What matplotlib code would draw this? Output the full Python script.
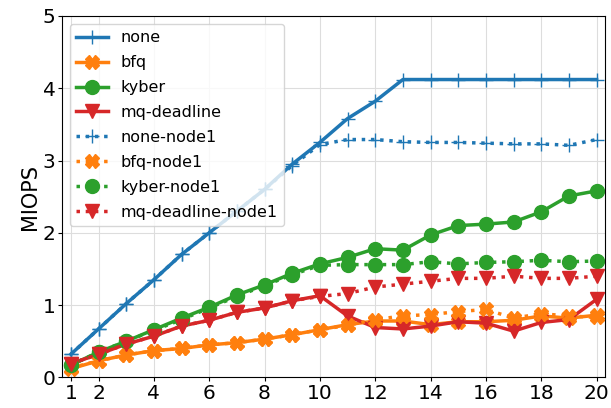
import numpy as np
import matplotlib
matplotlib.use('Agg')
import matplotlib.pyplot as plt

threads = list(range(1, 21))

none = [0.32, 0.67, 1.02, 1.35, 1.70, 2.00, 2.30, 2.60, 2.95, 3.25,
        3.58, 3.82, 4.12, 4.12, 4.12, 4.12, 4.12, 4.12, 4.12, 4.12]
bfq = [0.12, 0.23, 0.31, 0.37, 0.40, 0.45, 0.48, 0.53, 0.59, 0.66,
       0.73, 0.78, 0.78, 0.73, 0.77, 0.77, 0.79, 0.85, 0.82, 0.86]
kyber = [0.17, 0.35, 0.50, 0.66, 0.82, 0.97, 1.14, 1.28, 1.44, 1.57,
         1.66, 1.78, 1.76, 1.97, 2.10, 2.12, 2.15, 2.29, 2.51, 2.58]
mq_deadline = [0.19, 0.32, 0.46, 0.57, 0.71, 0.79, 0.90, 0.96, 1.06, 1.13,
               0.85, 0.69, 0.67, 0.71, 0.77, 0.75, 0.64, 0.76, 0.80, 1.08]

none_node1 = [0.32, 0.67, 1.02, 1.35, 1.70, 2.00, 2.30, 2.60, 2.93, 3.22,
              3.29, 3.29, 3.26, 3.25, 3.25, 3.24, 3.23, 3.23, 3.21, 3.29]
bfq_node1 = [0.13, 0.23, 0.31, 0.37, 0.40, 0.45, 0.48, 0.53, 0.59, 0.66,
             0.72, 0.80, 0.85, 0.87, 0.91, 0.94, 0.82, 0.88, 0.85, 0.83]
kyber_node1 = [0.17, 0.35, 0.50, 0.65, 0.80, 0.96, 1.12, 1.27, 1.42, 1.55,
               1.56, 1.56, 1.56, 1.60, 1.57, 1.59, 1.60, 1.62, 1.60, 1.61]
mq_deadline_node1 = [0.19, 0.32, 0.46, 0.57, 0.71, 0.79, 0.90, 0.96, 1.06, 1.12,
                     1.16, 1.25, 1.29, 1.33, 1.37, 1.37, 1.40, 1.37, 1.37, 1.40]

xticks = [1, 2, 4, 6, 8, 10, 12, 14, 16, 18, 20]

series = [
    ('none', none, 'tab:blue', '+', '-'),
    ('bfq', bfq, 'tab:orange', 'X', '-'),
    ('kyber', kyber, 'tab:green', 'o', '-'),
    ('mq-deadline', mq_deadline, 'tab:red', 'v', '-'),
    ('none-node1', none_node1, 'tab:blue', '+', ':'),
    ('bfq-node1', bfq_node1, 'tab:orange', 'X', ':'),
    ('kyber-node1', kyber_node1, 'tab:green', 'o', ':'),
    ('mq-deadline-node1', mq_deadline_node1, 'tab:red', 'v', ':'),
]

fig = plt.figure(figsize=(6.11, 4.08), dpi=100)
ax = fig.add_axes([0.101, 0.075, 0.889, 0.886])

for label, vals, color, marker, ls in series:
    ax.plot(threads, vals, color=color, marker=marker, linestyle=ls,
            linewidth=2.5, markersize=10, label=label)

ax.set_xlim(0.67, 20.3)
ax.set_ylim(0, 5)
ax.set_xticks(xticks)
ax.set_yticks([0, 1, 2, 3, 4, 5])
ax.tick_params(labelsize=14.5, length=3, pad=1.5)
ax.set_ylabel('MIOPS', fontsize=15, labelpad=2)
ax.grid(True, color='#dddddd')
ax.legend(loc='upper left', fontsize=11.5, labelspacing=0.62, framealpha=0.8)

fig.savefig('out.png', dpi=100)
